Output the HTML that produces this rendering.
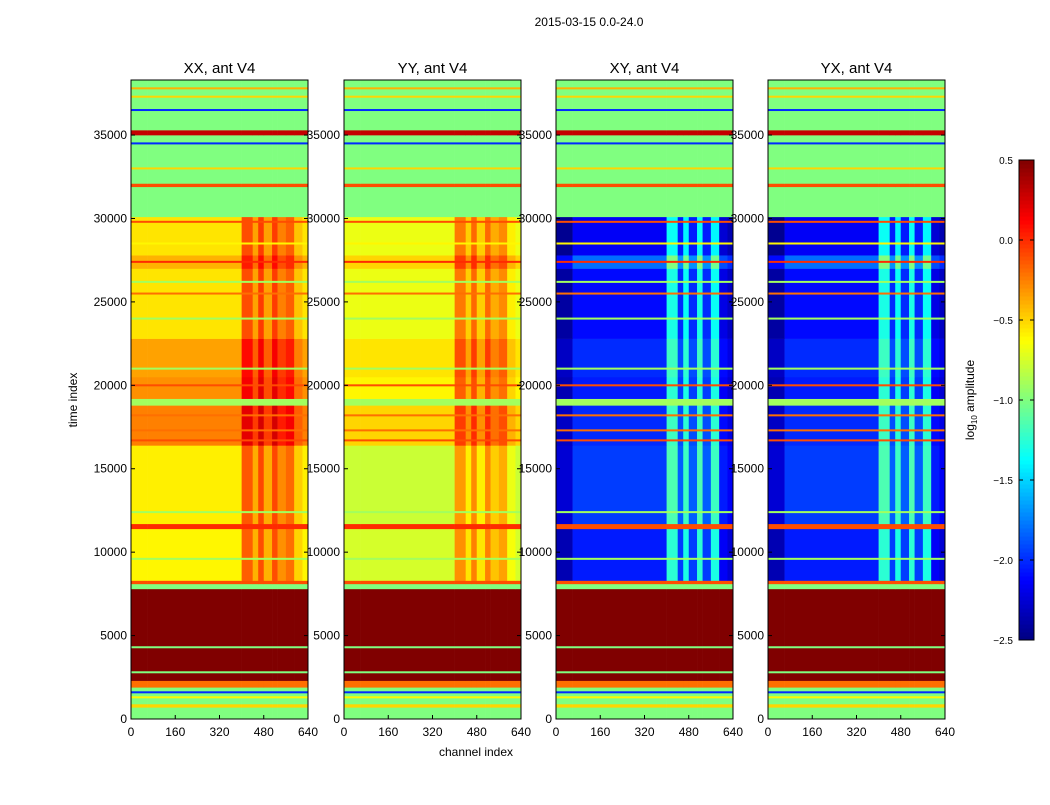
<!DOCTYPE html>
<html><head><meta charset="utf-8"><style>
html,body{margin:0;padding:0;background:#fff;}
svg text{font-family:"Liberation Sans",sans-serif;}
</style></head><body>
<svg id="fig" width="1050" height="800" viewBox="0 0 1050 800" xmlns="http://www.w3.org/2000/svg">
<rect width="1050" height="800" fill="#fff"/>
<text x="589" y="26" font-size="12" text-anchor="middle">2015-03-15 0.0-24.0</text>
<text x="476" y="756" font-size="12" text-anchor="middle">channel index</text>
<text transform="translate(77,400) rotate(-90)" font-size="12" text-anchor="middle">time index</text>
<g id="panels"></g>
<g id="cbar"></g>
<text transform="translate(974,400) rotate(-90)" font-size="12" text-anchor="middle">log<tspan font-size="8" dy="3">10</tspan><tspan dy="-3"> amplitude</tspan></text>
</svg>
<script>
// time bands (time index)
const bandStart = [0,700,900,1900,2300,7800,8100,8300,11400,11700,16400,18800,19200,20500,22800,27000,27800,30100,31900,32100,35000,35300];
const bandEnd   = [700,900,1900,2300,7800,8100,8300,11400,11700,16400,18800,19200,20500,22800,27000,27800,30100,31900,32100,35000,35300,38300];
const xxVals = [-1.0,-0.5,-1.0,-0.2,0.6,-1.0,-0.1,-0.6,0.0,-0.58,-0.25,-0.9,-0.3,-0.35,-0.55,-0.4,-0.55,-1.0,-0.1,-1.0,0.3,-1.0];
const yyVals = [-1.0,-0.5,-1.0,-0.2,0.6,-1.0,-0.1,-0.75,0.0,-0.78,-0.5,-0.9,-0.6,-0.55,-0.68,-0.5,-0.68,-1.0,-0.1,-1.0,0.3,-1.0];
const xyVals = [-1.0,-0.5,-1.0,-0.2,0.6,-1.0,-0.1,-2.05,-0.1,-1.95,-2.0,-0.9,-2.05,-2.0,-2.1,-1.8,-2.15,-1.0,-0.1,-1.0,0.3,-1.0];
const bandActive = [0,0,0,0,0,0,0,1,0,1,1,0,1,1,1,1,1,0,0,0,0,0];
// thin horizontal lines (time index, value) across all panels
const lineTimes = [1300,1600,4300,2800,9600,12400,16700,17300,18200,20000,21000,24000,25500,26200,27400,28500,29800,33000,34500,36500,37300,37800];
const lineVals  = [-0.6,-2.0,-1.0,-1.0,-0.9,-0.9,-0.1,-0.2,-0.2,-0.1,-0.9,-0.9,-0.2,-0.9,0.0,-0.6,-0.1,-0.5,-2.0,-2.0,-0.5,-0.4];
// channel segments and boosts
const segStart = [0,60,400,440,460,480,510,530,560,590,620];
const segEnd   = [60,400,440,460,480,510,530,560,590,620,640];
const xxBoost  = [0,0,0.45,0.2,0.5,0.2,0.5,0.3,0.4,0.1,0];
const xyBoost  = [-0.3,0,0.8,0.1,0.75,0.1,0.8,0.1,0.75,-0.1,-0.2];
const titles = ["XX, ant V4","YY, ant V4","XY, ant V4","YX, ant V4"];
const yTicks = [0,5000,10000,15000,20000,25000,30000,35000];
const xTicks = [0,160,320,480,640];
const cbTicks = [0.5,0.0,-0.5,-1.0,-1.5,-2.0,-2.5];

const NS="http://www.w3.org/2000/svg";
const panelX=[131,344,556,768], PW=177, PT=80, PB=719, TMAX=38300, CMAX=640, VMIN=-2.5, VMAX=0.5;
function jet(v){let t=Math.max(0,Math.min(1,(v-VMIN)/(VMAX-VMIN)));
 const c=x=>Math.round(255*Math.max(0,Math.min(1,x)));
 return `rgb(${c(1.5-Math.abs(4*t-3))},${c(1.5-Math.abs(4*t-2))},${c(1.5-Math.abs(4*t-1))})`;}
function mk(tag,attrs,parent){const e=document.createElementNS(NS,tag);for(const k in attrs)e.setAttribute(k,attrs[k]);parent.appendChild(e);return e;}
const root=document.getElementById('panels');
for(let p=0;p<4;p++){
 const x0=panelX[p];
 const ys=t=>PB-(t/TMAX)*(PB-PT);
 const xs=c=>x0+(c/CMAX)*PW;
 const g=mk('g',{},root);
 
 
 const vals=p===0?xxVals:p===1?yyVals:xyVals;
 const boost=p<2?xxBoost:xyBoost;
 for(let i=0;i<bandStart.length;i++){
  for(let s=0;s<segStart.length;s++){
   const v=vals[i]+(bandActive[i]?boost[s]:0);
   const r=mk('rect',{x:xs(segStart[s]),y:ys(bandEnd[i]),width:xs(segEnd[s])-xs(segStart[s])+0.3,height:ys(bandStart[i])-ys(bandEnd[i])+0.3,fill:jet(v)},g);
   
   
  }
 }
 for(let i=0;i<lineTimes.length;i++){
  const r=mk('rect',{x:x0,y:ys(lineTimes[i]+60),width:PW,height:ys(lineTimes[i]-60)-ys(lineTimes[i]+60),fill:jet(lineVals[i])},g);
  
  
 }
 mk('rect',{x:x0,y:PT,width:PW,height:PB-PT,fill:'none',stroke:'#000','stroke-width':1},g);
 const t=mk('text',{x:x0+PW/2,y:73,'font-size':15,'text-anchor':'middle'},g);t.textContent=titles[p];
 
 
 yTicks.forEach(v=>{const y=ys(v);
  mk('line',{x1:x0,x2:x0+4,y1:y,y2:y,stroke:'#000'},g);
  mk('line',{x1:x0+PW-4,x2:x0+PW,y1:y,y2:y,stroke:'#000'},g);
  const l=mk('text',{x:x0-4,y:y+4,'font-size':12,'text-anchor':'end'},g);l.textContent=v;
  
  });
 xTicks.forEach(v=>{const x=xs(v);
  mk('line',{x1:x,x2:x,y1:PB,y2:PB-4,stroke:'#000'},g);
  const l=mk('text',{x:x,y:PB+17,'font-size':12,'text-anchor':'middle'},g);l.textContent=v;
  
  });
}
// colorbar
const cb=document.getElementById('cbar');
const CX=1019,CW=15,CT=160,CB=640;
for(let i=0;i<120;i++){const v=VMIN+(i+0.5)/120*(VMAX-VMIN);const y=CB-(i+1)/120*(CB-CT);
 mk('rect',{x:CX,y:y,width:CW,height:(CB-CT)/120+0.5,fill:jet(v)},cb);}
mk('rect',{x:CX,y:CT,width:CW,height:CB-CT,fill:'none',stroke:'#000'},cb);
cbTicks.forEach(v=>{const y=CB-(v-VMIN)/(VMAX-VMIN)*(CB-CT);
 mk('line',{x1:CX,x2:CX+4,y1:y,y2:y,stroke:'#000'},cb);
 mk('line',{x1:CX+CW-4,x2:CX+CW,y1:y,y2:y,stroke:'#000'},cb);
 const l=mk('text',{x:CX-6,y:y+4,'font-size':10,'text-anchor':'end'},cb);l.textContent=(v<0?'\u2212':'')+Math.abs(v).toFixed(1);
 
 });
</script>
</body></html>
